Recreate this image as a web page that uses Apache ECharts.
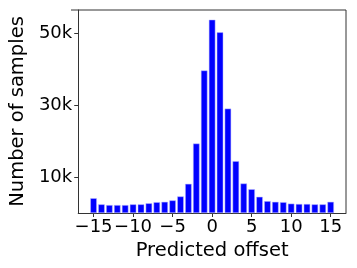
<!DOCTYPE html>
<html>
<head>
<meta charset="utf-8">
<script src="https://cdn.jsdelivr.net/npm/echarts@6/dist/echarts.min.js"></script>
<style>html,body{margin:0;padding:0;background:#fff}#c{width:357px;height:268px}</style>
</head>
<body>
<div id="c"></div>
<script>
const offsets = [-15,-14,-13,-12,-11,-10,-9,-8,-7,-6,-5,-4,-3,-2,-1,0,1,2,3,4,5,6,7,8,9,10,11,12,13,14,15];
const counts = [4100,2400,2200,2200,2200,2400,2400,2700,3000,3100,3500,4600,8100,19300,39600,53700,50200,29000,14400,8200,6600,4500,3300,3100,3000,2600,2500,2500,2400,2400,3100];
const xTicks = [-15,-10,-5,0,5,10,15];
const yTicks = [10000,30000,50000];

const chart = echarts.init(document.getElementById('c'));
const fmtX = v => (v < 0 ? '\u2212' + Math.abs(v) : String(v));
chart.setOption({
  animation: false,
  grid: {left: 71, right: 11, top: 10, bottom: 55},
  xAxis: {
    type: 'value', min: -16.94, max: 16.94,
    name: 'Predicted offset', nameLocation: 'middle', nameGap: 25,
    nameTextStyle: {fontFamily: 'DejaVu Sans', fontSize: 19.5, color: '#000'},
    axisLine: {show: true, onZero: false, lineStyle: {color: '#333', width: 1}},
    axisTick: {show: true, length: 4, customValues: xTicks, lineStyle: {color: '#333'}},
    axisLabel: {customValues: xTicks, formatter: fmtX, fontFamily: 'DejaVu Sans', fontSize: 18, color: '#000', margin: 5},
    splitLine: {show: false}
  },
  yAxis: {
    type: 'value', min: 0, max: 56400,
    name: 'Number of samples', nameLocation: 'middle', nameGap: 46,
    nameTextStyle: {fontFamily: 'DejaVu Sans', fontSize: 19.5, color: '#000'},
    axisLine: {show: true, onZero: false, lineStyle: {color: '#333', width: 1}},
    axisTick: {show: true, length: 4, customValues: yTicks, lineStyle: {color: '#333'}},
    axisLabel: {customValues: yTicks, formatter: v => (v/1000) + 'k', fontFamily: 'DejaVu Sans', fontSize: 18, color: '#000', margin: 6},
    splitLine: {show: false}
  },
  series: [{
    type: 'bar',
    data: offsets.map((x, i) => [x, counts[i]]),
    barWidth: 6.5,
    itemStyle: {color: '#0000ff', borderColor: '#bbbbff', borderWidth: 0.5}
  }],
  graphic: [
    {type: 'line', shape: {x1: 71, y1: 10, x2: 346, y2: 10}, style: {stroke: '#333', lineWidth: 1}},
    {type: 'line', shape: {x1: 346, y1: 10, x2: 346, y2: 213}, style: {stroke: '#333', lineWidth: 1}}
  ]
});
</script>
</body>
</html>
